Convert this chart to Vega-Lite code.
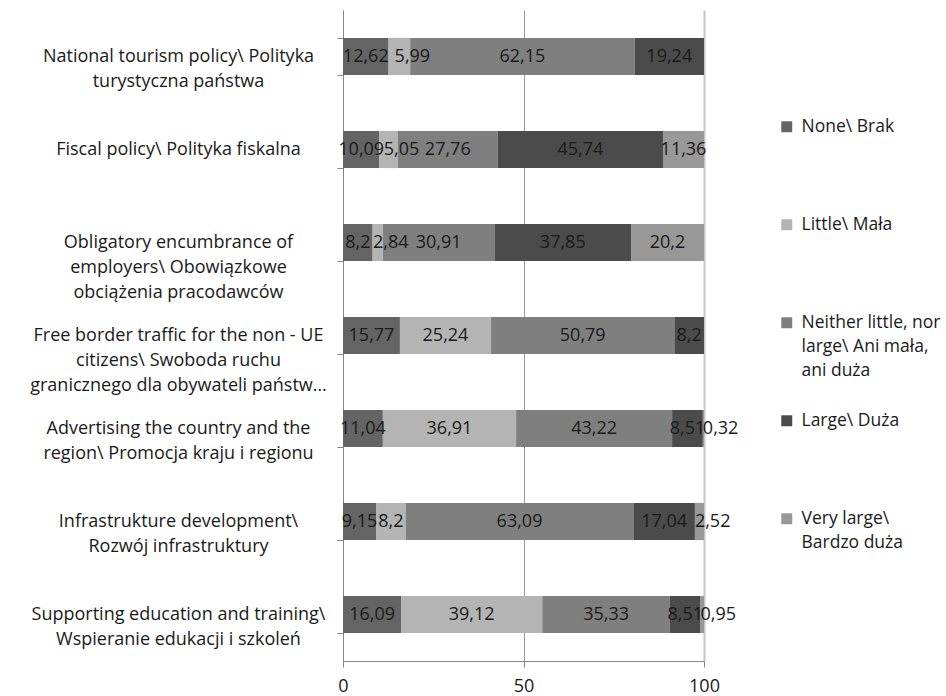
{
  "$schema": "https://vega.github.io/schema/vega-lite/v6.json",
  "autosize": {"type": "none"},
  "padding": {"left": 343, "top": 10, "right": 242, "bottom": 35},
  "width": 361,
  "height": 651,
  "background": "white",
  "config": {
    "view": {"stroke": null},
    "font": "Open Sans",
    "locale": {"number": {"decimal": ",", "thousands": " ", "grouping": [3], "currency": ["", ""]}}
  },
  "data": {"values": [
    {"item": "National tourism policy\\ Polityka|turystyczna państwa", "level": "None\\ Brak", "value": 12.62},
    {"item": "National tourism policy\\ Polityka|turystyczna państwa", "level": "Little\\ Mała", "value": 5.99},
    {"item": "National tourism policy\\ Polityka|turystyczna państwa", "level": "Neither little, nor|large\\ Ani mała,|ani duża", "value": 62.15},
    {"item": "National tourism policy\\ Polityka|turystyczna państwa", "level": "Large\\ Duża", "value": 19.24},
    {"item": "Fiscal policy\\ Polityka fiskalna", "level": "None\\ Brak", "value": 10.09},
    {"item": "Fiscal policy\\ Polityka fiskalna", "level": "Little\\ Mała", "value": 5.05},
    {"item": "Fiscal policy\\ Polityka fiskalna", "level": "Neither little, nor|large\\ Ani mała,|ani duża", "value": 27.76},
    {"item": "Fiscal policy\\ Polityka fiskalna", "level": "Large\\ Duża", "value": 45.74},
    {"item": "Fiscal policy\\ Polityka fiskalna", "level": "Very large\\|Bardzo duża", "value": 11.36},
    {"item": "Obligatory encumbrance of|employers\\ Obowiązkowe|obciążenia pracodawców", "level": "None\\ Brak", "value": 8.2},
    {"item": "Obligatory encumbrance of|employers\\ Obowiązkowe|obciążenia pracodawców", "level": "Little\\ Mała", "value": 2.84},
    {"item": "Obligatory encumbrance of|employers\\ Obowiązkowe|obciążenia pracodawców", "level": "Neither little, nor|large\\ Ani mała,|ani duża", "value": 30.91},
    {"item": "Obligatory encumbrance of|employers\\ Obowiązkowe|obciążenia pracodawców", "level": "Large\\ Duża", "value": 37.85},
    {"item": "Obligatory encumbrance of|employers\\ Obowiązkowe|obciążenia pracodawców", "level": "Very large\\|Bardzo duża", "value": 20.2},
    {"item": "Free border traffic for the non - UE|citizens\\ Swoboda ruchu|granicznego dla obywateli państw…", "level": "None\\ Brak", "value": 15.77},
    {"item": "Free border traffic for the non - UE|citizens\\ Swoboda ruchu|granicznego dla obywateli państw…", "level": "Little\\ Mała", "value": 25.24},
    {"item": "Free border traffic for the non - UE|citizens\\ Swoboda ruchu|granicznego dla obywateli państw…", "level": "Neither little, nor|large\\ Ani mała,|ani duża", "value": 50.79},
    {"item": "Free border traffic for the non - UE|citizens\\ Swoboda ruchu|granicznego dla obywateli państw…", "level": "Large\\ Duża", "value": 8.2},
    {"item": "Advertising the country and the|region\\ Promocja kraju i regionu", "level": "None\\ Brak", "value": 11.04},
    {"item": "Advertising the country and the|region\\ Promocja kraju i regionu", "level": "Little\\ Mała", "value": 36.91},
    {"item": "Advertising the country and the|region\\ Promocja kraju i regionu", "level": "Neither little, nor|large\\ Ani mała,|ani duża", "value": 43.22},
    {"item": "Advertising the country and the|region\\ Promocja kraju i regionu", "level": "Large\\ Duża", "value": 8.51},
    {"item": "Advertising the country and the|region\\ Promocja kraju i regionu", "level": "Very large\\|Bardzo duża", "value": 0.32},
    {"item": "Infrastrukture development\\|Rozwój infrastruktury", "level": "None\\ Brak", "value": 9.15},
    {"item": "Infrastrukture development\\|Rozwój infrastruktury", "level": "Little\\ Mała", "value": 8.2},
    {"item": "Infrastrukture development\\|Rozwój infrastruktury", "level": "Neither little, nor|large\\ Ani mała,|ani duża", "value": 63.09},
    {"item": "Infrastrukture development\\|Rozwój infrastruktury", "level": "Large\\ Duża", "value": 17.04},
    {"item": "Infrastrukture development\\|Rozwój infrastruktury", "level": "Very large\\|Bardzo duża", "value": 2.52},
    {"item": "Supporting education and training\\|Wspieranie edukacji i szkoleń", "level": "None\\ Brak", "value": 16.09},
    {"item": "Supporting education and training\\|Wspieranie edukacji i szkoleń", "level": "Little\\ Mała", "value": 39.12},
    {"item": "Supporting education and training\\|Wspieranie edukacji i szkoleń", "level": "Neither little, nor|large\\ Ani mała,|ani duża", "value": 35.33},
    {"item": "Supporting education and training\\|Wspieranie edukacji i szkoleń", "level": "Large\\ Duża", "value": 8.51},
    {"item": "Supporting education and training\\|Wspieranie edukacji i szkoleń", "level": "Very large\\|Bardzo duża", "value": 0.95}
  ]},
  "transform": [
    {"calculate": "indexof(['Non','Lit','Nei','Lar','Ver'], substring(datum.level, 0, 3))", "as": "ord"},
    {"stack": "value", "groupby": ["item"], "sort": [{"field": "ord", "order": "ascending"}], "as": ["x0", "x1"]},
    {"calculate": "(datum.x0 + datum.x1) / 2", "as": "mid"}
  ],
  "encoding": {
    "y": {
      "field": "item", "type": "nominal", "sort": null,
      "scale": {"paddingInner": 0.6, "paddingOuter": 0.3},
      "axis": {
        "title": null,
        "labelExpr": "split(datum.label, '|')",
        "labelAlign": "center",
        "labelBaseline": "middle",
        "labelFont": "Open Sans",
        "labelFontSize": 18,
        "labelColor": "#1a1a1a",
        "labelLineHeight": 25,
        "labelLimit": 400,
        "tickBand": "extent",
        "tickSize": 6,
        "tickColor": "#868686",
        "domainColor": "#868686",
        "labelPadding": 159
      }
    }
  },
  "layer": [
    {
      "mark": {"type": "bar"},
      "encoding": {
        "x": {
          "field": "x0", "type": "quantitative",
          "scale": {"domain": [0, 100], "nice": false},
          "axis": {
            "title": null,
            "values": [0, 50, 100],
            "grid": true,
            "gridColor": {"condition": {"test": "datum.value == 100", "value": "#c4c4c4"}, "value": "#9a9a9a"},
            "gridWidth": {"condition": {"test": "datum.value == 100", "value": 2}, "value": 1},
            "tickSize": 6,
            "tickColor": "#868686",
            "domainColor": "#868686",
            "labelFont": "Open Sans",
            "labelFontSize": 18,
            "labelColor": "#1a1a1a",
            "labelPadding": 10,
            "labelFlush": false
          }
        },
        "x2": {"field": "x1"},
        "color": {
          "field": "level", "type": "nominal",
          "scale": {
            "domain": ["None\\ Brak", "Little\\ Mała", "Neither little, nor|large\\ Ani mała,|ani duża", "Large\\ Duża", "Very large\\|Bardzo duża"],
            "range": ["#646464", "#b4b4b4", "#7f7f7f", "#4b4b4b", "#989898"]
          },
          "legend": {
            "title": null,
            "orient": "none",
            "legendX": 435,
            "legendY": 108,
            "symbolType": "square",
            "symbolSize": 120,
            "labelFont": "Open Sans",
            "labelFontSize": 17.5,
            "labelColor": "#1a1a1a",
            "labelExpr": "split(datum.label, '|')",
            "labelLimit": 300,
            "gridAlign": "all",
            "rowPadding": 31,
            "labelOffset": 6,
            "encode": {"labels": {"update": {"lineHeight": {"value": 24}}}}
          }
        }
      }
    },
    {
      "transform": [{"filter": "!(datum.ord == 4 && datum.value < 3) && !(datum.ord == 1 && datum.value < 7)"}],
      "mark": {"type": "text", "align": "center", "baseline": "middle", "font": "Open Sans", "fontSize": 18, "color": "#1a1a1a"},
      "encoding": {
        "x": {"field": "mid", "type": "quantitative"},
        "text": {"field": "value", "type": "quantitative", "format": "~g"}
      }
    },
    {
      "transform": [{"filter": "datum.ord == 1 && datum.value < 7"}],
      "mark": {"type": "text", "align": "center", "baseline": "middle", "dx": 13, "font": "Open Sans", "fontSize": 18, "color": "#1a1a1a"},
      "encoding": {
        "x": {"field": "mid", "type": "quantitative"},
        "text": {"field": "value", "type": "quantitative", "format": "~g"}
      }
    },
    {
      "transform": [{"filter": "datum.ord == 4 && datum.value < 3"}],
      "mark": {"type": "text", "align": "left", "baseline": "middle", "font": "Open Sans", "fontSize": 18, "color": "#1a1a1a"},
      "encoding": {
        "x": {"field": "x0", "type": "quantitative"},
        "text": {"field": "value", "type": "quantitative", "format": "~g"}
      }
    }
  ]
}
